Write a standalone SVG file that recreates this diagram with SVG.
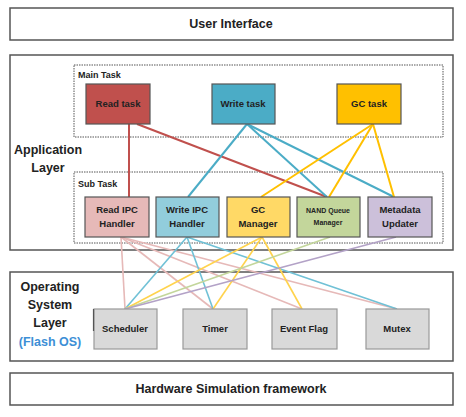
<svg xmlns="http://www.w3.org/2000/svg" width="466" height="417" viewBox="0 0 466 417">
<style>
text{font-family:"Liberation Sans",Arial,sans-serif;font-weight:bold;fill:#222;text-anchor:middle}
.layer{fill:#fff;stroke:#555;stroke-width:1.5}
.dash{fill:none;stroke:#555;stroke-width:1;stroke-dasharray:1.5,1}
.box{stroke:#555;stroke-width:1.2}
.os{fill:#d9d9d9;stroke:#999;stroke-width:1.2}
.big{font-size:12.5px}
.lbl{font-size:9.5px}
.sm{font-size:9px;text-anchor:start}
.c{fill:none}
</style>
<g id="user-interface"><rect class="layer" x="10" y="8" width="443" height="32"/><text class="big" x="231" y="28">User Interface</text></g>
<g id="application-layer"><rect class="layer" x="10" y="55" width="443" height="195"/><text class="big" x="48" y="154">Application</text><text class="big" x="48" y="172">Layer</text></g>
<g id="main-task-group"><rect class="dash" x="74" y="65" width="369" height="72"/><text class="sm" x="78" y="78">Main Task</text></g>
<g id="sub-task-group"><rect class="dash" x="74" y="172" width="369" height="71"/><text class="sm" x="78" y="187">Sub Task</text></g>
<g id="os-layer"><rect class="layer" x="10" y="272" width="443" height="89"/><text class="big" x="50" y="291">Operating</text><text class="big" x="50" y="309">System</text><text class="big" x="50" y="327">Layer</text><text class="big" x="50" y="346" style="fill:#3d8fd6">(Flash OS)</text></g>
<g id="hardware"><rect class="layer" x="10" y="373" width="443" height="32"/><text class="big" x="231" y="393">Hardware Simulation framework</text></g>
<g id="connectors" class="c" stroke-width="2">
<g stroke="#c0504d"><line x1="129" y1="124" x2="129" y2="197"/><line x1="137" y1="124" x2="327" y2="197"/></g>
<g stroke="#4bacc6"><line x1="247" y1="124" x2="188" y2="197"/><line x1="247" y1="124" x2="327" y2="197"/><line x1="247" y1="124" x2="394" y2="197"/></g>
<g stroke="#ffc000"><line x1="373" y1="124" x2="261" y2="197"/><line x1="373" y1="124" x2="329" y2="197"/><line x1="373" y1="124" x2="394" y2="197"/></g>
<g stroke-width="1.6">
<g stroke="#e6b9b8"><line x1="121" y1="237" x2="125" y2="309"/><line x1="121" y1="237" x2="213" y2="309"/><line x1="121" y1="237" x2="302" y2="309"/><line x1="121" y1="237" x2="397" y2="309"/></g>
<g stroke="#70c1d6"><line x1="187" y1="237" x2="125" y2="309"/><line x1="187" y1="237" x2="213" y2="309"/><line x1="187" y1="237" x2="397" y2="309"/></g>
<g stroke="#ffd34d"><line x1="262" y1="237" x2="125" y2="309"/><line x1="262" y1="237" x2="213" y2="309"/><line x1="262" y1="237" x2="302" y2="309"/></g>
<line stroke="#c3d69b" x1="330" y1="237" x2="125" y2="309"/>
<line stroke="#b3a2c7" x1="396" y1="237" x2="125" y2="309"/>
</g>
</g>
<g id="read-task"><rect class="box" x="86" y="84" width="64" height="40" fill="#c0504d"/><text class="lbl" x="118" y="107">Read task</text></g>
<g id="write-task"><rect class="box" x="212" y="84" width="63" height="40" fill="#4bacc6"/><text class="lbl" x="243" y="107">Write task</text></g>
<g id="gc-task"><rect class="box" x="337" y="84" width="64" height="40" fill="#ffc000"/><text class="lbl" x="369" y="107">GC task</text></g>
<g id="read-ipc"><rect class="box" x="85" y="197" width="64" height="40" fill="#e6b9b8"/><text class="lbl" x="117" y="213">Read IPC</text><text class="lbl" x="117" y="227">Handler</text></g>
<g id="write-ipc"><rect class="box" x="156" y="197" width="63" height="40" fill="#92cddc"/><text class="lbl" x="187" y="213">Write IPC</text><text class="lbl" x="187" y="227">Handler</text></g>
<g id="gc-manager"><rect class="box" x="227" y="197" width="63" height="40" fill="#ffd966"/><text class="lbl" x="258" y="213">GC</text><text class="lbl" x="258" y="227">Manager</text></g>
<g id="nand-queue"><rect class="box" x="297" y="197" width="63" height="40" fill="#c3d69b"/><text x="328" y="213" style="font-size:7px">NAND Queue</text><text x="328" y="225" style="font-size:7px">Manager</text></g>
<g id="metadata"><rect class="box" x="368" y="197" width="64" height="40" fill="#ccc0da"/><text class="lbl" x="400" y="213">Metadata</text><text class="lbl" x="400" y="227">Updater</text></g>
<g id="scheduler"><rect class="os" x="94" y="309" width="63" height="40"/><line x1="93.5" y1="309" x2="93.5" y2="331" stroke="#555" stroke-width="1.2"/><text class="lbl" x="125" y="332">Scheduler</text></g>
<g id="timer"><rect class="os" x="183" y="309" width="64" height="40"/><text class="lbl" x="215" y="332">Timer</text></g>
<g id="event-flag"><rect class="os" x="272" y="309" width="65" height="40"/><text class="lbl" x="304" y="332">Event Flag</text></g>
<g id="mutex"><rect class="os" x="366" y="309" width="63" height="40"/><text class="lbl" x="397" y="332">Mutex</text></g>
</svg>
